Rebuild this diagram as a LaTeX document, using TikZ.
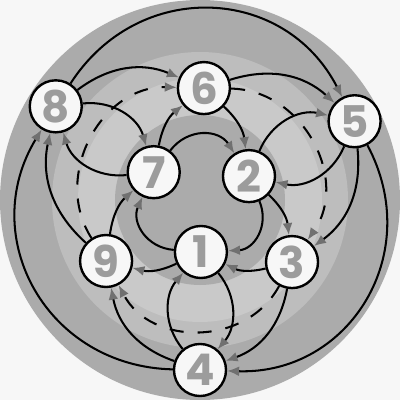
\documentclass[tikz,border=0pt]{standalone}
\usepackage{fontspec}
\newfontfamily\numfont{Poppins}
\usepackage{xcolor}
\usetikzlibrary{arrows.meta}
\definecolor{ringdark}{HTML}{ABABAB}
\definecolor{ringmid}{HTML}{BDBDBD}
\definecolor{ringlight}{HTML}{C9C9C9}
\definecolor{tipgray}{HTML}{707070}
\definecolor{labelgray}{HTML}{9C9C9C}
\definecolor{paper}{HTML}{F7F7F7}

\begin{document}
\begin{tikzpicture}[x=0.025cm,y=0.025cm,
    vertex/.style={circle,draw=black,line width=1.7pt,fill=paper,
        minimum size=1.3cm,inner sep=0pt,text=labelgray,
        font=\numfont\bfseries\fontsize{31}{31}\selectfont},
    link/.style={line width=1.45pt,-{Latex[length=8.5pt,width=7pt,color=tipgray]}},
    dashlink/.style={link,dash pattern=on 10pt off 10pt}]
        \useasboundingbox (-200,-200) rectangle (200,200);
        % Shaded rings
        \fill[paper] (-200,-200) rectangle (200,200);
        \fill[ringdark] (0,0) circle (200);
        \fill[ringmid] (0,0) circle (148);
        \fill[ringlight] (0,0) circle (122);
        \fill[ringdark] (0,0) circle (85);

        % Vertices: inner, middle and outer triple
        \node[vertex] (n1) at (271:52) {1};
        \node[vertex] (n2) at (26:54.5) {2};
        \node[vertex] (n7) at (149:54) {7};
        \node[vertex] (n6) at (88:112) {6};
        \node[vertex] (n9) at (213:112) {9};
        \node[vertex] (n3) at (326:111) {3};
        \node[vertex] (n8) at (147:172) {8};
        \node[vertex] (n5) at (27:173.5) {5};
        \node[vertex] (n4) at (270:170) {4};

        % Inner and outer cycles
        \foreach \a/\b in {n7/n2,n2/n1,n1/n7}
            \draw[link] (\a) to[bend left=55,looseness=1.15] (\b);
        \foreach \a/\b in {n4/n8,n8/n5,n5/n4}
            \draw[link] (\a) to[bend left=60,looseness=1.18] (\b);
        % Dashed middle cycle
        \foreach \a/\b in {n9/n6,n6/n3,n3/n9}
            \draw[dashlink] (\a) to[bend left=62,looseness=1.1] (\b);

        % Spokes
        \foreach \a/\b in {n7/n6,n6/n2,n2/n3,n3/n1,n1/n9,n9/n7}
            \draw[link] (\a) to[bend left=20] (\b);
        \foreach \a/\b in {n1/n4,n4/n1,n2/n5,n5/n2,n7/n8,n8/n7}
            \draw[link] (\a) to[bend left=40] (\b);
        \foreach \a/\b in {n8/n6,n6/n5,n5/n3,n3/n4,n4/n9,n9/n8}
            \draw[link] (\a) to[bend left=30] (\b);
\end{tikzpicture}
\end{document}
